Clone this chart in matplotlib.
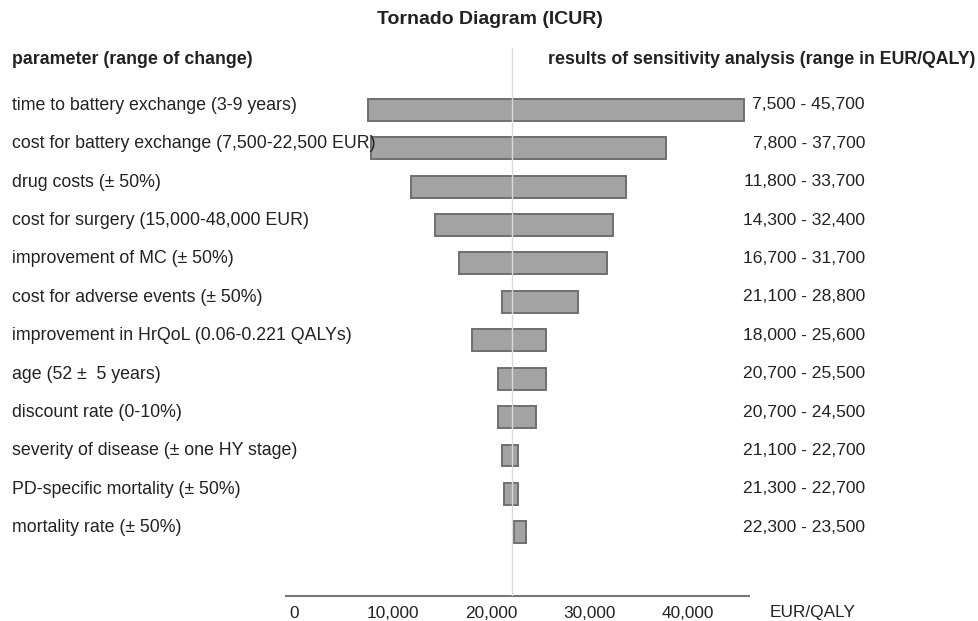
"""Tornado diagram (ICUR) — one-way sensitivity analysis."""
import matplotlib.pyplot as plt
import matplotlib.transforms as mtransforms

plt.rcParams["font.family"] = ["Liberation Sans", "DejaVu Sans"]

parameters = [
    "time to battery exchange (3-9 years)",
    "cost for battery exchange (7,500-22,500 EUR)",
    "drug costs (\u00b1 50%)",
    "cost for surgery (15,000-48,000 EUR)",
    "improvement of MC (\u00b1 50%)",
    "cost for adverse events (\u00b1 50%)",
    "improvement in HrQoL (0.06-0.221 QALYs)",
    "age (52 \u00b1  5 years)",
    "discount rate (0-10%)",
    "severity of disease (\u00b1 one HY stage)",
    "PD-specific mortality (\u00b1 50%)",
    "mortality rate (\u00b1 50%)",
]
low = [7500, 7800, 11800, 14300, 16700, 21100, 18000, 20700, 20700, 21100, 21300, 22300]
high = [45700, 37700, 33700, 32400, 31700, 28800, 25600, 25500, 24500, 22700, 22700, 23500]
base_case = 22100
xticks = [0, 10000, 20000, 30000, 40000]

W, H = 979, 621
fig = plt.figure(figsize=(W / 100, H / 100), dpi=100)
fig.patch.set_facecolor("white")

# axes placed in pixel terms to match the layout
x0, x1, ytop, ybot = 286, 749, 48, 596
ax = fig.add_axes([x0 / W, (H - ybot) / H, (x1 - x0) / W, (ybot - ytop) / H])

n = len(parameters)
ypos = list(range(n))
widths = [h - l for l, h in zip(low, high)]
ax.barh(ypos, widths, left=low, height=0.57, color="#a3a3a3",
        edgecolor="#6f6f6f", linewidth=1.4, zorder=2)
ax.axvline(base_case, color="#d9d9d9", lw=1.0, zorder=3)

ax.set_xlim(-860, 46170)
ax.set_ylim(12.66, -1.61)

for s in ["top", "right", "left"]:
    ax.spines[s].set_visible(False)
ax.spines["bottom"].set_color("#777777")
ax.spines["bottom"].set_linewidth(1.5)
ax.set_yticks([])
ax.set_xticks(xticks)
ax.set_xticklabels([f"{t:,}" for t in xticks], fontsize=12.4, color="#222222")
ax.tick_params(axis="x", length=0, pad=7)

# row labels on the left and result ranges on the right
tr = mtransforms.blended_transform_factory(fig.transFigure, ax.transData)
for i, (p, l, h) in enumerate(zip(parameters, low, high)):
    ax.text(12 / W, i - 0.12, p, transform=tr, ha="left", va="center",
            fontsize=12.8, color="#222222")
    ax.text(865 / W, i - 0.13, f"{l:,} - {h:,}", transform=tr, ha="right",
            va="center", fontsize=12.6, color="#222222")

fig.text(490 / W, 1 - 20 / H, "Tornado Diagram (ICUR)", ha="center",
         va="center", fontsize=14, fontweight="bold", color="#222222")
fig.text(12 / W, 1 - 60 / H, "parameter (range of change)", ha="left",
         va="center", fontsize=12.8, fontweight="bold", color="#222222")
fig.text(975 / W, 1 - 60 / H, "results of sensitivity analysis (range in EUR/QALY)",
         ha="right", va="center", fontsize=12.8, fontweight="bold", color="#222222")
fig.text(770 / W, 1 - 612 / H, "EUR/QALY", ha="left", va="center",
         fontsize=12.4, color="#222222")

fig.savefig("out.png", dpi=100)
